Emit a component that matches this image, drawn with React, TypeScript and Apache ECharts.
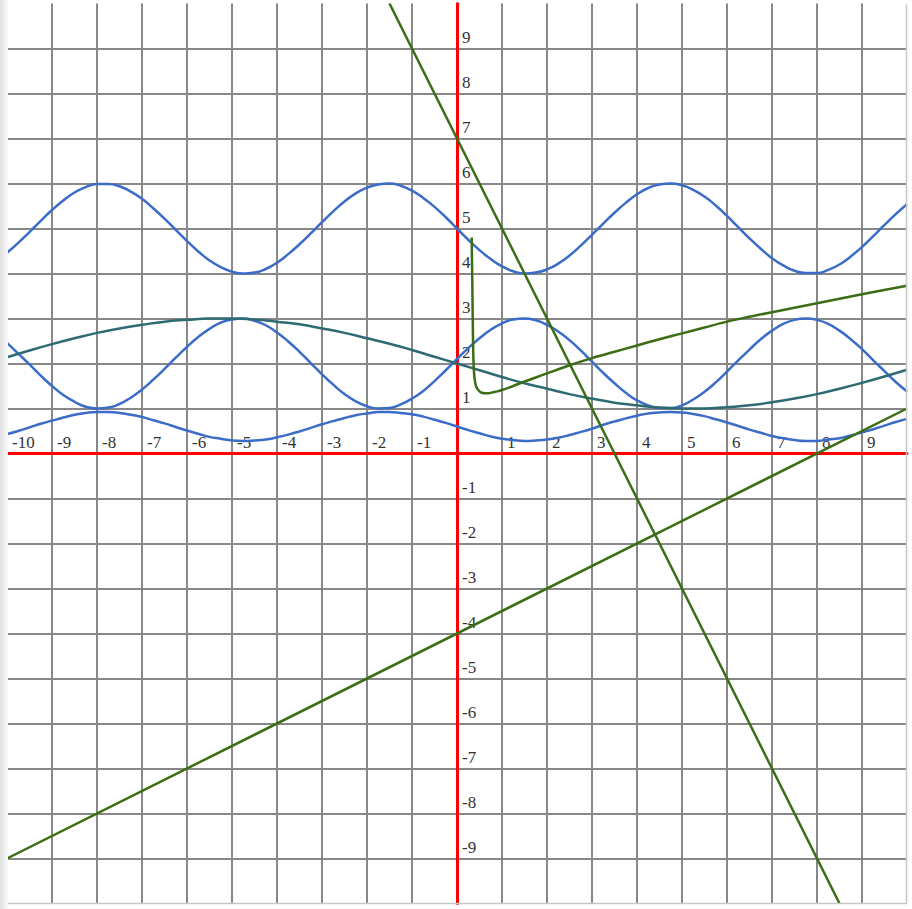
import React, { useEffect, useRef } from "react";
import * as echarts from "echarts";

// ---- data ----
const AXIS_MIN = -10;
const AXIS_MAX = 10;
const AXIS_STEP = 1;

const X_QUARTER = [
  -10, -9.75, -9.5, -9.25, -9, -8.75, -8.5, -8.25, -8, -7.75, -7.5, -7.25, -7, -6.75, -6.5, -6.25, -6, -5.75, -5.5, -5.25,
  -5, -4.75, -4.5, -4.25, -4, -3.75, -3.5, -3.25, -3, -2.75, -2.5, -2.25, -2, -1.75, -1.5, -1.25, -1, -0.75, -0.5, -0.25,
  0, 0.25, 0.5, 0.75, 1, 1.25, 1.5, 1.75, 2, 2.25, 2.5, 2.75, 3, 3.25, 3.5, 3.75, 4, 4.25, 4.5, 4.75,
  5, 5.25, 5.5, 5.75, 6, 6.25, 6.5, 6.75, 7, 7.25, 7.5, 7.75, 8, 8.25, 8.5, 8.75, 9, 9.25, 9.5, 9.75, 10,
];

const WAVE_HIGH = [
  4.46, 4.68, 4.92, 5.17, 5.41, 5.62, 5.8, 5.92, 5.99, 5.99, 5.94, 5.82, 5.66, 5.45, 5.22, 4.97, 4.72, 4.49, 4.29, 4.14,
  4.04, 4.0, 4.02, 4.1, 4.24, 4.43, 4.65, 4.89, 5.14, 5.38, 5.6, 5.78, 5.91, 5.98, 6.0, 5.95, 5.84, 5.68, 5.48, 5.25,
  5.0, 4.75, 4.52, 4.32, 4.16, 4.05, 4.0, 4.02, 4.09, 4.22, 4.4, 4.62, 4.86, 5.11, 5.35, 5.57, 5.76, 5.9, 5.98, 6.0,
  5.96, 5.86, 5.71, 5.51, 5.28, 5.03, 4.78, 4.55, 4.34, 4.18, 4.06, 4.01, 4.01, 4.08, 4.2, 4.38, 4.59, 4.83, 5.08, 5.32, 5.54,
];

const WAVE_MID = [
  2.46, 2.22, 1.98, 1.73, 1.5, 1.3, 1.15, 1.04, 1.0, 1.02, 1.1, 1.24, 1.42, 1.64, 1.88, 2.13, 2.37, 2.59, 2.77, 2.91,
  2.98, 3.0, 2.95, 2.85, 2.69, 2.49, 2.26, 2.01, 1.76, 1.53, 1.32, 1.16, 1.05, 1.0, 1.01, 1.09, 1.22, 1.39, 1.61, 1.85,
  2.1, 2.34, 2.56, 2.75, 2.89, 2.98, 3.0, 2.96, 2.86, 2.71, 2.52, 2.29, 2.04, 1.79, 1.56, 1.35, 1.18, 1.07, 1.01, 1.01,
  1.07, 1.2, 1.37, 1.58, 1.82, 2.07, 2.31, 2.54, 2.73, 2.88, 2.97, 3.0, 2.97, 2.88, 2.73, 2.54, 2.32, 2.07, 1.83, 1.59, 1.38,
];

const WAVE_LOW = [
  0.43, 0.5, 0.58, 0.66, 0.73, 0.8, 0.86, 0.9, 0.92, 0.92, 0.9, 0.86, 0.81, 0.74, 0.67, 0.59, 0.51, 0.44, 0.37, 0.33,
  0.29, 0.28, 0.29, 0.31, 0.36, 0.42, 0.49, 0.57, 0.65, 0.72, 0.79, 0.85, 0.89, 0.92, 0.92, 0.9, 0.87, 0.82, 0.75, 0.68,
  0.6, 0.52, 0.45, 0.38, 0.33, 0.3, 0.28, 0.29, 0.31, 0.35, 0.41, 0.48, 0.55, 0.64, 0.71, 0.78, 0.84, 0.89, 0.91, 0.92,
  0.91, 0.88, 0.83, 0.76, 0.69, 0.61, 0.53, 0.46, 0.39, 0.34, 0.3, 0.28, 0.28, 0.31, 0.34, 0.4, 0.47, 0.54, 0.62, 0.7, 0.77,
];

const X_HALF = [
  -10, -9.5, -9, -8.5, -8, -7.5, -7, -6.5, -6, -5.5, -5, -4.5, -4, -3.5, -3, -2.5, -2, -1.5, -1, -0.5,
  0, 0.5, 1, 1.5, 2, 2.5, 3, 3.5, 4, 4.5, 5, 5.5, 6, 6.5, 7, 7.5, 8, 8.5, 9, 9.5, 10,
];

const WAVE_SLOW = [
  2.14, 2.29, 2.43, 2.56, 2.68, 2.78, 2.86, 2.93, 2.97, 3.0, 3.0, 2.98, 2.93, 2.87, 2.78, 2.68, 2.56, 2.44, 2.3, 2.15,
  2.0, 1.85, 1.7, 1.56, 1.44, 1.32, 1.22, 1.13, 1.07, 1.02, 1.0, 1.0, 1.03, 1.07, 1.14, 1.22, 1.32, 1.44, 1.57, 1.71, 1.86,
];

const STEEP_X = [-1.5, 8.5];
const STEEP_Y = [10, -10];

const SHALLOW_X = [-10, 10];
const SHALLOW_Y = [-9, 1];

const HOOK_X = [
  0.327, 0.333, 0.34, 0.347, 0.355, 0.362, 0.37, 0.38, 0.39, 0.4, 0.42, 0.45, 0.5, 0.55, 0.62, 0.7, 0.8, 0.9, 1.0,
  1.25, 1.5, 1.75, 2, 2.5, 3, 3.5, 4, 4.5, 5, 5.5, 6, 7, 8, 9, 10,
];
const HOOK_Y = [
  4.8, 4.3, 3.8, 3.2, 2.6, 2.2, 1.95, 1.78, 1.67, 1.6, 1.51, 1.44, 1.38, 1.35, 1.34, 1.34, 1.36, 1.38, 1.41,
  1.5, 1.6, 1.69, 1.78, 1.96, 2.12, 2.26, 2.4, 2.54, 2.67, 2.8, 2.93, 3.14, 3.34, 3.54, 3.73,
];

const zip = (xs: number[], ys: number[]) => xs.map((x, i) => [x, ys[i]]);

const BLUE = "#3b6cc7";
const TEAL = "#2e6a72";
const GREEN = "#3b6d14";

export default function App() {
  const ref = useRef<HTMLDivElement>(null);

  useEffect(() => {
    if (!ref.current) return;
    const chart = echarts.init(ref.current, null, { renderer: "svg" });

    const labelFont = {
      fontFamily: '"Liberation Serif", "Times New Roman", serif',
      fontSize: 17,
      color: "#333",
    };

    const axisCommon = {
      type: "value",
      min: AXIS_MIN,
      max: AXIS_MAX,
      interval: AXIS_STEP,
      offset: -450,
      axisTick: { show: false },
      axisLine: { show: true, onZero: false, lineStyle: { color: "#ff0000", width: 3 } },
      splitLine: {
        show: true,
        showMinLine: false,
        showMaxLine: false,
        lineStyle: { color: "#888888", width: 2 },
      },
    };

    const lineSeries = (name: string, data: number[][], color: string, smooth: any, extra: any = {}) => ({
      name,
      type: "line",
      data,
      smooth,
      showSymbol: false,
      symbol: "none",
      clip: true,
      lineStyle: { color, width: 2.5 },
      itemStyle: { color },
      z: 3,
      ...extra,
    });

    chart.setOption({
      animation: false,
      backgroundColor: "#ffffff",
      grid: { left: 7, top: 3.5, width: 900, height: 900 },
      xAxis: {
        ...axisCommon,
        position: "bottom",
        axisLabel: {
          ...labelFont,
          inside: true,
          showMinLabel: true,
          showMaxLabel: true,
          align: "left",
          verticalAlign: "bottom",
          margin: 3,
          padding: [0, 0, 0, 5],
          formatter: (v: number) => (v === 0 || v === AXIS_MAX ? "" : String(v)),
        },
      },
      yAxis: {
        ...axisCommon,
        position: "left",
        axisLabel: {
          ...labelFont,
          inside: true,
          showMinLabel: true,
          showMaxLabel: true,
          align: "left",
          verticalAlign: "bottom",
          margin: 5,
          padding: [0, 0, 3, 0],
          formatter: (v: number) => (v === 0 || v === AXIS_MAX || v === AXIS_MIN ? "" : String(v)),
        },
      },
      graphic: [
        {
          type: "line",
          shape: { x1: 8, y1: 903.5, x2: 907, y2: 903.5 },
          style: { stroke: "#c6c6c6", lineWidth: 1.5 },
          z: 10,
        },
        {
          type: "line",
          shape: { x1: 906.5, y1: 4.5, x2: 906.5, y2: 903.5 },
          style: { stroke: "#c6c6c6", lineWidth: 1.5 },
          z: 10,
        },
        {
          type: "rect",
          shape: { x: 0, y: 0, width: 8, height: 909 },
          style: {
            fill: new echarts.graphic.LinearGradient(0, 0, 1, 0, [
              { offset: 0, color: "#e0e0e0" },
              { offset: 1, color: "#fbfbfb" },
            ]),
          },
          z: 100,
        },
      ],
      series: [
        lineSeries("wave high", zip(X_QUARTER, WAVE_HIGH), BLUE, true, {
          markLine: {
            silent: true,
            symbol: ["none", "none"],
            label: { show: false },
            lineStyle: { color: "#ff0000", width: 3, type: "solid" },
            data: [{ xAxis: 0 }, { yAxis: 0 }],
            z: 2,
          },
        }),
        lineSeries("wave mid", zip(X_QUARTER, WAVE_MID), BLUE, true),
        lineSeries("wave low", zip(X_QUARTER, WAVE_LOW), BLUE, true),
        lineSeries("wave slow", zip(X_HALF, WAVE_SLOW), TEAL, true),
        lineSeries("steep line", zip(STEEP_X, STEEP_Y), GREEN, false),
        lineSeries("shallow line", zip(SHALLOW_X, SHALLOW_Y), GREEN, false),
        lineSeries("hook curve", zip(HOOK_X, HOOK_Y), GREEN, 0.3),
      ],
    });

    return () => chart.dispose();
  }, []);

  return (
    <div
      ref={ref}
      style={{ position: "absolute", left: 0, top: 0, width: 912, height: 909, background: "#fff" }}
    />
  );
}
